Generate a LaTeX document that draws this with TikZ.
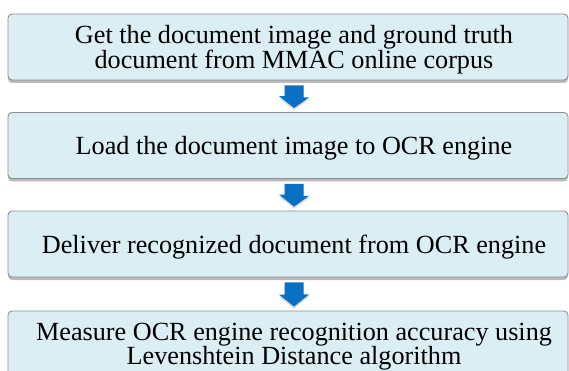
\documentclass[tikz,border=0pt]{standalone}
\usepackage{fontspec}
\setmainfont{Liberation Serif}
\usetikzlibrary{shadows,calc}
\definecolor{stepfill}{HTML}{DAEEF3}
\definecolor{stepline}{HTML}{8C8F91}
\definecolor{arrowblue}{HTML}{0A70C4}
\tikzset{
  stepbox/.style={draw=stepline, line width=0.9pt, fill=stepfill, rounded corners=4pt,
    minimum width=560pt, minimum height=66pt, inner sep=0pt,
    drop shadow={shadow xshift=0pt, shadow yshift=-3pt, opacity=0.45, fill=black!60}},
  steptext/.style={align=center, inner sep=0pt, xshift=6pt, yshift=-3pt,
    font=\fontsize{26.2}{24}\selectfont},
  blockarrow/.style={fill=arrowblue,
    drop shadow={shadow xshift=0pt, shadow yshift=-2pt, opacity=0.3}}
}
\newcommand{\downarrowshape}[2]{%
  \fill[blockarrow] ($(#1.south -| ax)+(-9.5,5)$) -- ++(19,0) -- ++(0,12) -- ++(5.5,0)
    -- ($(#2.north -| ax)+(0,-4)$) -- ++(-15,-12) -- ++(5.5,0) -- cycle;}
\begin{document}
\begin{tikzpicture}[x=1pt,y=-1pt]
  \useasboundingbox (0,0) rectangle (569,371);
  \coordinate (ax) at (294,0);
  \node[stepbox, label={[steptext]center:Get the document image and ground truth\\document from MMAC online corpus}] (s1) at (288,47) {};
  \node[stepbox, label={[steptext]center:Load the document image to OCR engine}] (s2) at (288,145.5) {};
  \node[stepbox, label={[steptext]center:Deliver recognized document from OCR engine}] (s3) at (288,244) {};
  \node[stepbox, label={[steptext]center:Measure OCR engine recognition accuracy using\\Levenshtein Distance algorithm}] (s4) at (288,344) {};
  \downarrowshape{s1}{s2}
  \downarrowshape{s2}{s3}
  \downarrowshape{s3}{s4}
\end{tikzpicture}
\end{document}
